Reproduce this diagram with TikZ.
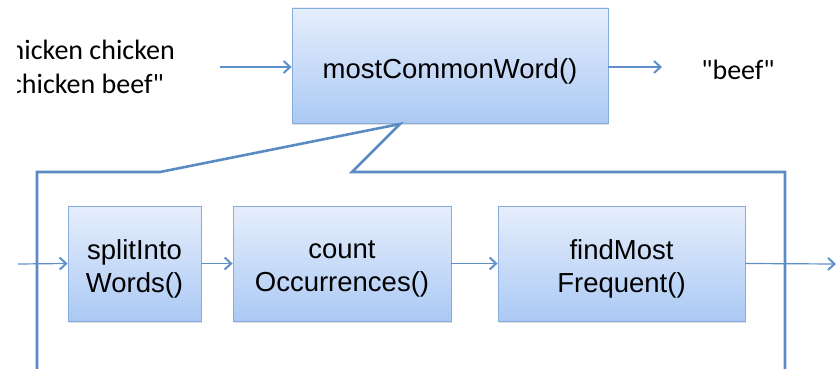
\documentclass[tikz,border=0pt]{standalone}
\usepackage{fontspec}
\setmainfont{Liberation Sans}
\newfontfamily\calfont{Carlito}
\usetikzlibrary{arrows.meta,shadows}
\definecolor{arrowblue}{HTML}{5E8FC8}
\definecolor{frameblue}{HTML}{5B8BC3}
\definecolor{boxtop}{HTML}{E6EEFC}
\definecolor{boxbot}{HTML}{ABC9F4}
\definecolor{boxline}{HTML}{86ACDB}
\tikzset{
  fnbox/.style={draw=boxline, line width=0.8pt, top color=boxtop, bottom color=boxbot,
    minimum height=115pt, inner sep=0pt,
    drop shadow={opacity=0.25, shadow xshift=1.2pt, shadow yshift=-1.8pt}},
  boxtext/.style={inner sep=0pt, align=center, yshift=-5.5pt,
    font=\fontsize{27.5}{33}\selectfont},
  flow/.style={draw=arrowblue, line width=1.2pt, -{Straight Barb[length=6.5pt,width=12pt,line width=2pt]}},
  frameline/.style={draw=frameblue, line width=2.6pt, line join=miter},
  plain/.style={inner sep=0pt, font=\calfont\fontsize{28}{33}\selectfont}
}
\begin{document}
\begin{tikzpicture}[x=1pt,y=-1pt]
\clip (0,0) rectangle (836,369);
% top level
\node[fnbox, minimum width=316pt, label={[boxtext]center:mostCommonWord()}] (main) at (450,65.5) {};
\begin{scope}
\clip (17,0) rectangle (220,120);
\node[plain, anchor=base east] (in1) at (175,60) {"chicken chicken};
\node[plain, anchor=base east] (in2) at (164,93) {chicken beef"};
\end{scope}
\node[plain, anchor=base] (out) at (738,80) {"beef"};
\coordinate (inA) at (220,67);
\coordinate (outA) at (662,67);
\draw[flow] (inA) -- (inA -| main.west);
\draw[flow] (outA -| main.east) -- (outA);
% callout frame
\coordinate (f1) at (37,400);
\coordinate (f2) at (37,172);
\coordinate (f3) at (160,172);
\coordinate (tip) at (400,124);
\coordinate (f4) at (352,172);
\coordinate (f5) at (785,172);
\coordinate (f6) at (785,400);
\draw[frameline] (f1) -- (f2) -- (f3) -- (tip) -- (f4) -- (f5) -- (f6);
% inner pipeline
\node[fnbox, minimum width=133pt, label={[boxtext]center:{splitInto\\Words()}}] (split) at (134.5,263.5) {};
\node[fnbox, minimum width=218pt, label={[boxtext]center:{count\\Occurrences()}}] (count) at (342,263.5) {};
\node[fnbox, minimum width=247pt, label={[boxtext]center:{findMost\\Frequent()}}] (find) at (621.5,263.5) {};
\coordinate (pin) at (18,264);
\coordinate (pout) at (836,264);
\draw[flow] (pin) -- (split.west);
\draw[flow] (split.east) -- (count.west);
\draw[flow] (count.east) -- (find.west);
\draw[flow] (find.east) -- (pout);
\end{tikzpicture}
\end{document}
